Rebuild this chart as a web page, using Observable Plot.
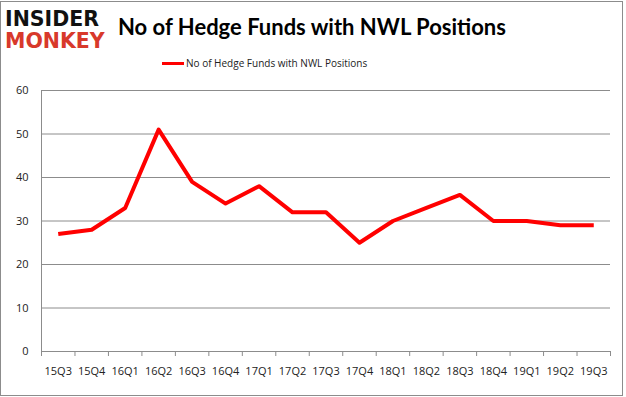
<!DOCTYPE html>
<html>
<head>
<meta charset="utf-8">
<script src="https://cdn.jsdelivr.net/npm/d3@7"></script>
<script src="https://cdn.jsdelivr.net/npm/@observablehq/plot@0.6"></script>
<style>
  html, body { margin: 0; padding: 0; background: #fff; }
  #wrap { position: relative; width: 626px; height: 397px; overflow: hidden; font-family: "Open Sans", sans-serif; }
  #frame { position: absolute; left: 0; top: 1px; width: 621px; height: 393px; border: 1px solid #8c8c8c; pointer-events: none; }
  #logo1, #logo2 { position: absolute; left: 5px; font-family: "DejaVu Sans", sans-serif; font-weight: bold; font-size: 20.5px; line-height: 1; }
  #logo1 { top: 9px; color: #111; }
  #logo2 { top: 31px; color: #d8392b; }
  #title { position: absolute; left: 118px; top: 13px; font-family: Lato, sans-serif; font-weight: bold; font-size: 22px; color: #000; white-space: nowrap; }
  #legend { position: absolute; left: 162px; top: 56px; font-family: "Open Sans", sans-serif; font-size: 10px; color: #222; white-space: nowrap; display: flex; align-items: center; }
  #legend .sw { display: inline-block; width: 22px; height: 3px; background: #ff0000; margin-right: 2px; }
  #chart { position: absolute; left: 0; top: 0; }
</style>
</head>
<body>
<div id="wrap">
  <div id="chart"></div>
  <div id="logo1">INSIDER</div>
  <div id="logo2">MONKEY</div>
  <div id="title">No of Hedge Funds with NWL Positions</div>
  <div id="legend"><span class="sw"></span><span>No of Hedge Funds with NWL Positions</span></div>
  <div id="frame"></div>
</div>
<script>
const quarters = ["15Q3","15Q4","16Q1","16Q2","16Q3","16Q4","17Q1","17Q2","17Q3","17Q4","18Q1","18Q2","18Q3","18Q4","19Q1","19Q2","19Q3"];
const funds = [27, 28, 33, 51, 39, 34, 38, 32, 32, 25, 30, 33, 36, 30, 30, 29, 29];
const yTicks = [0, 10, 20, 30, 40, 50, 60];

const data = quarters.map((q, i) => ({q, i, v: funds[i]}));
const n = quarters.length;

const chart = Plot.plot({
  width: 626,
  height: 397,
  marginLeft: 41,
  marginRight: 16,
  marginTop: 90,
  marginBottom: 46,
  style: {fontFamily: "Open Sans, sans-serif", fontSize: "11px", color: "#222", background: "transparent"},
  x: {type: "linear", domain: [0, n]},
  y: {domain: [0, 60]},
  marks: [
    Plot.gridY(yTicks, {stroke: "#8c8c8c", strokeOpacity: 1, strokeWidth: 1}),
    Plot.ruleX([0], {stroke: "#8c8c8c"}),
    Plot.axisY(yTicks, {tickSize: 0, tickPadding: 13, label: null, fontSize: 11}),
    Plot.axisX(d3.range(n + 1), {tickSize: 5, tickFormat: () => "", stroke: "#8c8c8c", label: null}),
    Plot.axisX(d3.range(n).map(i => i + 0.5), {tickSize: 0, tickPadding: 16, tickFormat: d => quarters[Math.round(d - 0.5)], label: null, fontSize: 11}),
    Plot.lineY(data, {x: d => d.i + 0.5, y: "v", stroke: "#ff0000", strokeWidth: 4, strokeLinejoin: "round", strokeLinecap: "butt"})
  ]
});
document.getElementById("chart").appendChild(chart);
</script>
</body>
</html>
